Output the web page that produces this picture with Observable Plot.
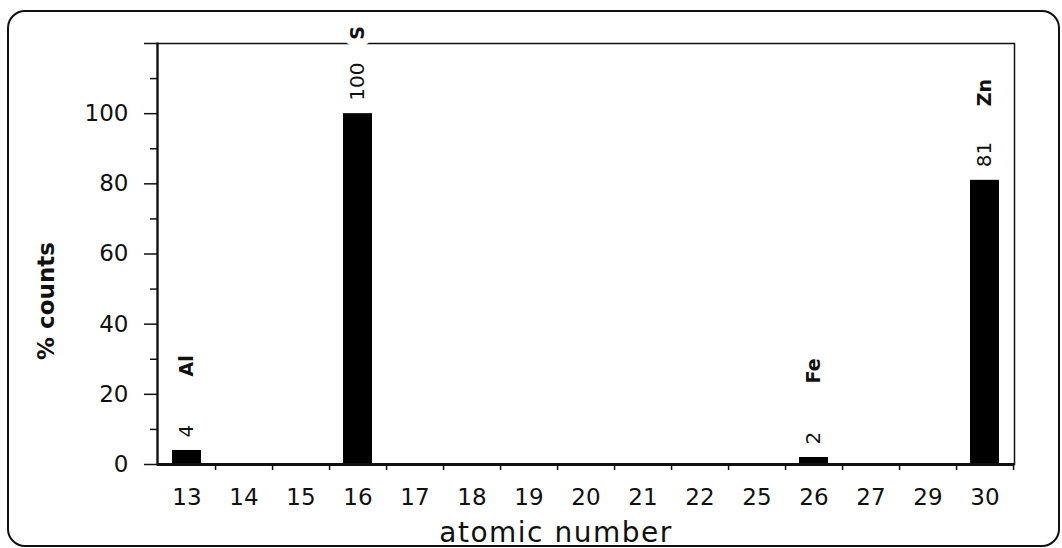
<!DOCTYPE html>
<html>
<head>
<meta charset="utf-8">
<script src="https://cdn.jsdelivr.net/npm/d3@7"></script>
<script src="https://cdn.jsdelivr.net/npm/@observablehq/plot@0.6"></script>
<style>
  html, body { margin: 0; padding: 0; background: #fff; }
  #chart { position: absolute; left: 0; top: 0; }
  #box { position: absolute; left: 7px; top: 10px; width: 1049px; height: 533px;
         border: 2px solid #111; border-radius: 18px; pointer-events: none; }
</style>
</head>
<body>
<div id="chart"></div>
<div id="box"></div>
<script>
// ---- data ----
const atomicNumbers = ["13","14","15","16","17","18","19","20","21","22","25","26","27","29","30"];
const percentCounts = [4, 0, 0, 100, 0, 0, 0, 0, 0, 0, 0, 2, 0, 0, 81];
const elementNumbers = ["13","16","26","30"];
const elementSymbols = ["Al","S","Fe","Zn"];
const yMajorTicks = [0, 20, 40, 60, 80, 100, 120];
const yMinorTicks = [10, 30, 50, 70, 90, 110];
const yLabel = "% counts";
const xLabel = "atomic number";

// ---- layout ----
const W = 1062, H = 548;
const mL = 157, mR = 48, mT = 43, mB = 84;
const step = (W - mL - mR) / atomicNumbers.length;

const bars = atomicNumbers.map((n, i) => ({n, v: percentCounts[i]}));
const valued = bars.filter(d => d.v > 0);
const elems = elementNumbers.map((n, i) => ({n, s: elementSymbols[i], v: percentCounts[atomicNumbers.indexOf(n)]}));

const ink = "#111";

const chart = Plot.plot({
  width: W, height: H,
  marginLeft: mL, marginRight: mR, marginTop: mT, marginBottom: mB,
  style: {fontFamily: "DejaVu Sans", background: "transparent", color: ink},
  x: {domain: atomicNumbers, paddingInner: 0.5, paddingOuter: 0.25, align: 0.5},
  y: {domain: [0, 120]},
  marks: [
    Plot.frame({stroke: ink, strokeWidth: 1.5}),
    Plot.frame({anchor: "left", stroke: ink, strokeWidth: 2.2}),
    Plot.axisY({ticks: yMinorTicks, tickSize: 7, tickFormat: () => "", label: null, stroke: ink, strokeWidth: 1.5}),
    Plot.axisY({ticks: yMajorTicks, tickSize: 13, tickPadding: 16, fontSize: 23,
                tickFormat: d => d === 120 ? "" : String(d), label: null, stroke: ink, strokeWidth: 1.5, fill: ink}),
    Plot.axisX({tickSize: 0, tickPadding: 24, fontSize: 23, label: null, fill: ink}),
    Plot.ruleX(atomicNumbers, {x: d => d, y1: 0, y2: 0, insetBottom: -6, dx: step / 2, stroke: ink, strokeWidth: 1.5}),
    Plot.barY(bars, {x: "n", y: "v", fill: "#000"}),
    Plot.ruleY([0], {stroke: ink, strokeWidth: 3}),
    Plot.text(valued, {x: "n", y: "v", text: d => String(d.v), rotate: -90, textAnchor: "start",
                       lineAnchor: "middle", dy: -13, fontSize: 20, fill: ink}),
    Plot.text(elems, {x: "n", y: "v", text: "s", rotate: -90, textAnchor: "start",
                      lineAnchor: "middle", dy: -74, fontSize: 19, fontWeight: "bold",
                      fill: ink, stroke: "white", strokeWidth: 14, paintOrder: "stroke"}),
    Plot.text([yLabel], {frameAnchor: "left", rotate: -90, textAnchor: "middle", lineAnchor: "middle",
                         dx: -111, dy: 47, fontSize: 23, fontWeight: "bold", fill: ink}),
    Plot.text([xLabel], {frameAnchor: "bottom", dx: -30, dy: 58, lineAnchor: "top",
                         fontSize: 28, fill: ink, className: "xlab"})
  ]
});
d3.select(chart).selectAll(".xlab text").style("letter-spacing", "1.5px");
document.getElementById("chart").appendChild(chart);
</script>
</body>
</html>
